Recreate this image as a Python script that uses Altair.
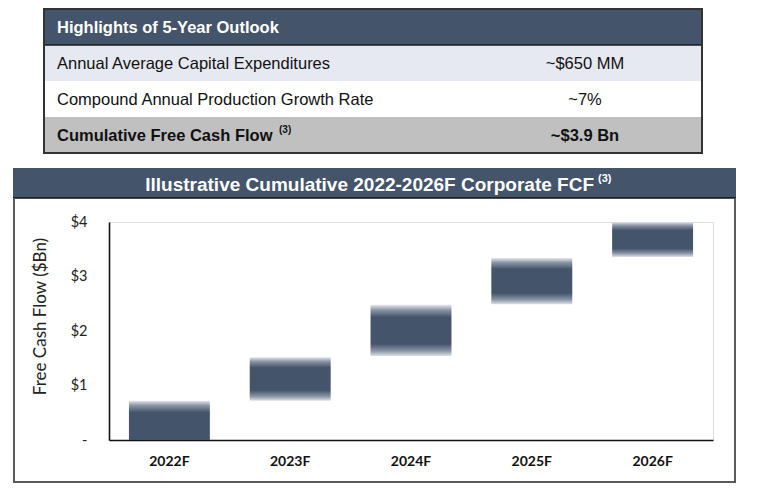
import altair as alt
import pandas as pd

# ---------------- data ----------------
years = ["2022F", "2023F", "2024F", "2025F", "2026F"]
fcf_start = [0.0, 0.72, 1.54, 2.49, 3.36]
fcf_end = [0.72, 1.52, 2.48, 3.34, 4.0]
y_ticks = [0, 1, 2, 3, 4]

table_header = "Highlights of 5-Year Outlook"
table_metrics = [
    "Annual Average Capital Expenditures",
    "Compound Annual Production Growth Rate",
    "Cumulative Free Cash Flow",
]
table_values = ["~$650 MM", "~7%", "~$3.9 Bn"]
footnote_mark = "(3)"
chart_title = "Illustrative Cumulative 2022-2026F Corporate FCF"
y_title = "Free Cash Flow ($Bn)"

# ---------------- styles ----------------
SLATE = "#44546A"
ROW_FILLS = ["#E6E8F2", "#FFFFFF", "#C0C0C0"]
ROW_BOLD = [False, False, True]
NARROW = "Liberation Sans Narrow, Arial Narrow, Liberation Sans, Arial"
CAL = "Lato, Open Sans, sans-serif"

# plot-area origin in page pixels
OX, OY = 109, 222
W, H = 604, 218


def px(x):
    return x - OX


def py(y):
    return y - OY


dummy = pd.DataFrame({"a": [0]})
layers = []

# ---- table ----
TL, TR = px(44), px(702)
row_edges = [9, 45, 81, 117, 153]
layers.append(
    alt.Chart(dummy).mark_rect(color=SLATE).encode(
        x=alt.value(TL), x2=alt.value(TR),
        y=alt.value(py(row_edges[0])), y2=alt.value(py(row_edges[1])))
)
layers.append(
    alt.Chart(pd.DataFrame({"t": [table_header]})).mark_text(
        align="left", baseline="middle", font=NARROW, fontSize=16.5,
        fontWeight="bold", color="white").encode(
        x=alt.value(px(57)), y=alt.value(py(28)), text="t:N")
)
for i in range(3):
    top, bot = row_edges[i + 1], row_edges[i + 2]
    layers.append(
        alt.Chart(dummy).mark_rect(color=ROW_FILLS[i]).encode(
            x=alt.value(TL), x2=alt.value(TR),
            y=alt.value(py(top)), y2=alt.value(py(bot)))
    )
    df = pd.DataFrame({"m": [table_metrics[i]], "v": [table_values[i]]})
    w = "bold" if ROW_BOLD[i] else "normal"
    layers.append(
        alt.Chart(df).mark_text(align="left", baseline="middle", font=NARROW,
                                fontSize=16.5, fontWeight=w, color="#111").encode(
            x=alt.value(px(57)), y=alt.value(py((top + bot) / 2 + 1)), text="m:N")
    )
    layers.append(
        alt.Chart(df).mark_text(align="center", baseline="middle", font=NARROW,
                                fontSize=16.5, fontWeight=w, color="#111").encode(
            x=alt.value(px(585)), y=alt.value(py((top + bot) / 2 + 1)), text="v:N")
    )
# footnote marker on last row
layers.append(
    alt.Chart(pd.DataFrame({"f": [footnote_mark]})).mark_text(
        align="left", baseline="middle", font=NARROW, fontSize=10,
        fontWeight="bold", color="#111").encode(
        x=alt.value(px(279)), y=alt.value(py(130)), text="f:N")
)
# header underline and border
layers.append(
    alt.Chart(dummy).mark_rule(color="#1a1a1a", strokeWidth=1.5).encode(
        x=alt.value(TL), x2=alt.value(TR), y=alt.value(py(45)))
)
layers.append(
    alt.Chart(dummy).mark_rect(fillOpacity=0, stroke="#333333", strokeWidth=2).encode(
        x=alt.value(TL), x2=alt.value(TR),
        y=alt.value(py(row_edges[0])), y2=alt.value(py(row_edges[-1])))
)

# ---- title bar ----
BL, BR = px(13), px(736)
layers.append(
    alt.Chart(dummy).mark_rect(color=SLATE).encode(
        x=alt.value(BL), x2=alt.value(BR), y=alt.value(py(168)), y2=alt.value(py(198)))
)
layers.append(
    alt.Chart(pd.DataFrame({"t": [chart_title]})).mark_text(
        align="right", baseline="middle", font=NARROW, fontSize=19,
        fontWeight="bold", color="white").encode(
        x=alt.value(px(594)), y=alt.value(py(185)), text="t:N")
)
layers.append(
    alt.Chart(pd.DataFrame({"f": [footnote_mark]})).mark_text(
        align="left", baseline="middle", font=NARROW, fontSize=11,
        fontWeight="bold", color="white").encode(
        x=alt.value(px(598)), y=alt.value(py(179)), text="f:N")
)
# ---- box ----
layers.append(
    alt.Chart(dummy).mark_rule(color="#111111", strokeWidth=1.5).encode(
        x=alt.value(BL), x2=alt.value(BR), y=alt.value(py(198)))
)
for xx in (px(14), px(735)):
    layers.append(
        alt.Chart(dummy).mark_rule(color="#5a5a5a", strokeWidth=2).encode(
            x=alt.value(xx), y=alt.value(py(198)), y2=alt.value(py(482)))
    )
layers.append(
    alt.Chart(dummy).mark_rule(color="#5a5a5a", strokeWidth=2).encode(
        x=alt.value(px(13)), x2=alt.value(px(736)), y=alt.value(py(482)))
)

# ---- bars ----
bars = pd.DataFrame({"year": years, "start": fcf_start, "end": fcf_end})

grad_mid = alt.Gradient(
    gradient="linear", x1=0, x2=0, y1=0, y2=1,
    stops=[alt.GradientStop(color="#e4e7ed", offset=0),
           alt.GradientStop(color="#8a95a6", offset=0.1),
           alt.GradientStop(color=SLATE, offset=0.24),
           alt.GradientStop(color=SLATE, offset=0.76),
           alt.GradientStop(color="#8a95a6", offset=0.9),
           alt.GradientStop(color="#dde1e8", offset=1)])
grad_first = alt.Gradient(
    gradient="linear", x1=0, x2=0, y1=0, y2=1,
    stops=[alt.GradientStop(color="#e4e7ed", offset=0),
           alt.GradientStop(color="#8a95a6", offset=0.12),
           alt.GradientStop(color=SLATE, offset=0.3),
           alt.GradientStop(color=SLATE, offset=1)])

xenc = alt.X("year:N", sort=years, title=None,
             scale=alt.Scale(paddingInner=0.33, paddingOuter=0.165),
             axis=alt.Axis(labelAngle=0, labelFont=CAL, labelFontSize=14,
                           labelFontWeight="bold", labelColor="#111",
                           labelPadding=14, ticks=False, domainColor="#111",
                           domainWidth=1.6, grid=False))
yenc = alt.Y("start:Q", title=y_title,
             scale=alt.Scale(domain=[0, 4], nice=False),
             axis=alt.Axis(values=y_ticks, ticks=False, grid=False,
                           labelExpr="datum.value == 0 ? '-' : '$' + datum.value",
                           labelFont=CAL, labelFontSize=14.5, labelColor="#222",
                           labelPadding=22, domainColor="#111", domainWidth=1.6,
                           titleFont=CAL, titleFontSize=17, titleFontWeight="normal",
                           titleColor="#222", titleX=-69, titleY=94,
                           titleAlign="center", titleBaseline="middle"))

bar_first = alt.Chart(bars).transform_filter(alt.datum.year == years[0]).mark_bar(
    color=grad_first).encode(x=xenc, y=yenc, y2="end:Q")
bar_rest = alt.Chart(bars).transform_filter(alt.datum.year != years[0]).mark_bar(
    color=grad_mid).encode(x=xenc, y=yenc, y2="end:Q")

chart = alt.layer(*layers, bar_first, bar_rest).properties(
    width=W, height=H,
    autosize=alt.AutoSizeParams(type="none"),
    padding={"left": OX - 8, "top": OY - 8, "right": 36, "bottom": 475 - (OY - 8) - H},
).configure_view(stroke=None).configure(background="white")

chart.save("out.html", embed_options={"renderer": "svg", "actions": False})
